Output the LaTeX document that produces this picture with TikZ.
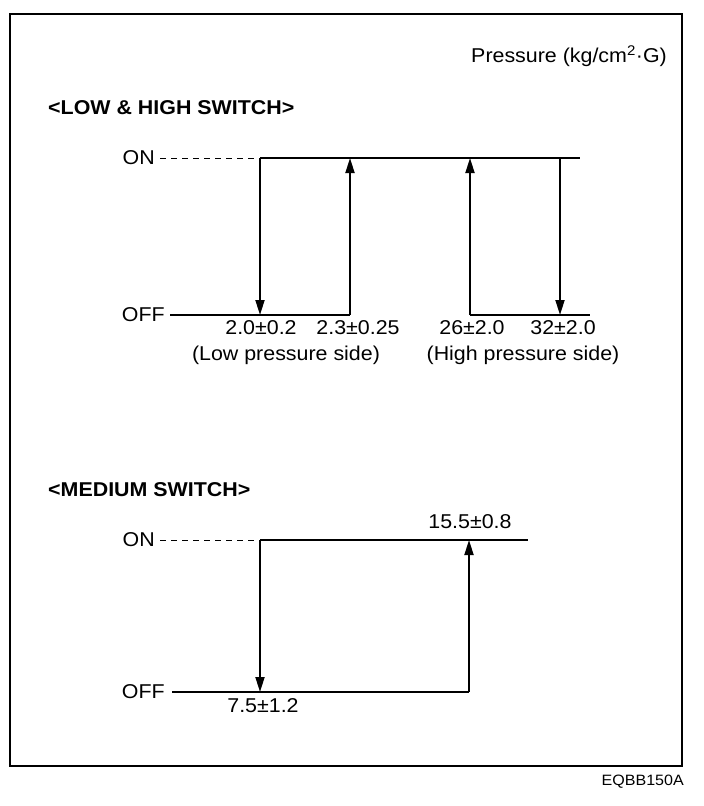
\documentclass[tikz,border=0pt]{standalone}
\usepackage{fontspec}
\setmainfont{Liberation Sans}
\usetikzlibrary{arrows.meta}
\begin{document}
\begin{tikzpicture}[x=1pt,y=-1pt,
  ln/.style={line width=1.8pt},
  dsh/.style={line width=1pt,dash pattern=on 6pt off 5pt},
  arr/.style={line width=1.8pt,-{Triangle[length=15pt,width=9pt]}},
  lbl/.style={inner sep=0pt,xscale=1.07,font=\fontsize{20}{22}\selectfont},
  ttl/.style={inner sep=0pt,xscale=1.07,font=\fontsize{20}{22}\selectfont\bfseries}]
\useasboundingbox (0,0) rectangle (704,806);
\draw[line width=2pt] (10,14) rectangle (682,766);
\node[lbl,anchor=east] (press) at (667,56) {Pressure (kg/cm\textsuperscript{2}·G)};
\node[ttl,anchor=west] (t1) at (48,108) {<LOW \& HIGH SWITCH>};
% top diagram
\node[lbl,anchor=east] (on1) at (155,158) {ON};
\node[lbl,anchor=east] (off1) at (165,315) {OFF};
\coordinate (a1) at (260,158);
\coordinate (a2) at (260,315);
\coordinate (b1) at (350,158);
\coordinate (b2) at (350,315);
\coordinate (c1) at (470,158);
\coordinate (c2) at (470,315);
\coordinate (d1) at (560,158);
\coordinate (d2) at (560,315);
\coordinate (e1) at (580,158);
\coordinate (e2) at (590,315);
\coordinate (f2) at (170,315);
\draw[dsh] (on1.east) ++(5,0) -- (a1);
\draw[ln] (a1) -- (e1);
\draw[ln] (f2) -- (b2);
\draw[ln] (c2) -- (e2);
\draw[arr] (a1) -- (a2);
\draw[arr] (b2) -- (b1);
\draw[arr] (c2) -- (c1);
\draw[arr] (d1) -- (d2);
\node[lbl] (l1) at (261,328) {2.0±0.2};
\node[lbl] (l2) at (358,328) {2.3±0.25};
\node[lbl] (l3) at (472,328) {26±2.0};
\node[lbl] (l4) at (563,328) {32±2.0};
\node[lbl] (s1) at (286,355) {(Low pressure side)};
\node[lbl] (s2) at (523,355) {(High pressure side)};
% medium
\node[ttl,anchor=west] (t2) at (48,490) {<MEDIUM SWITCH>};
\node[lbl,anchor=east] (on2) at (155,540) {ON};
\node[lbl,anchor=east] (off2) at (165,692) {OFF};
\coordinate (m1) at (260,540);
\coordinate (m2) at (260,692);
\coordinate (n1) at (469,540);
\coordinate (n2) at (469,692);
\coordinate (o1) at (528,540);
\coordinate (g2) at (172,692);
\draw[dsh] (on2.east) ++(5,0) -- (m1);
\draw[ln] (m1) -- (o1);
\draw[ln] (g2) -- (n2);
\draw[arr] (m1) -- (m2);
\draw[arr] (n2) -- (n1);
\node[lbl] (l5) at (470,522) {15.5±0.8};
\node[lbl] (l6) at (263,706) {7.5±1.2};
\node[inner sep=0pt,anchor=east,xscale=1.07,font=\fontsize{15}{17}\selectfont] (code) at (684,782) {EQBB150A};
\end{tikzpicture}
\end{document}
